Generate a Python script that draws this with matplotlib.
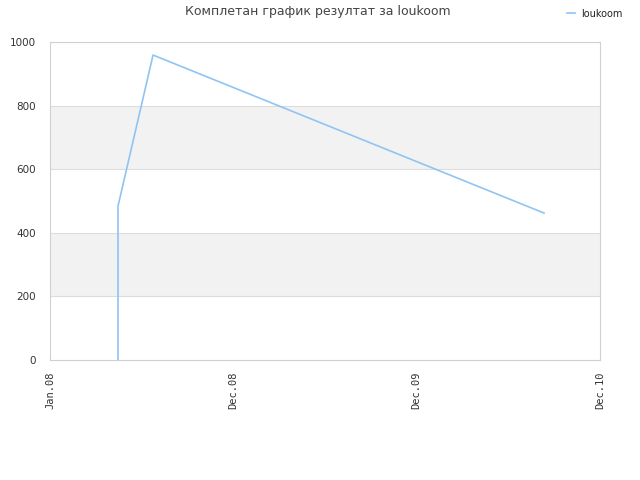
import matplotlib
matplotlib.use("Agg")
import matplotlib.pyplot as plt

TITLE = "Комплетан график резултат за loukoom"
SERIES = "loukoom"

tick_labels = ["Jan.08", "Dec.08", "Dec.09", "Dec.10"]
tick_pos = [0, 1, 2, 3]

# positions in tick-interval units
x_pos = [0.371, 0.371, 0.562, 2.695]
scores = [0, 484, 959, 462]

LINE = "#90c4f2"
GRID = "#dddddd"
BAND = "#f2f2f2"

fig = plt.figure(figsize=(6.4, 4.8), dpi=100)
ax = fig.add_axes([50 / 640, 120 / 480, 550 / 640, 318 / 480])

for lo, hi in [(200, 400), (600, 800)]:
    ax.axhspan(lo, hi, color=BAND, zorder=0, lw=0)
for y in [200, 400, 600, 800, 1000]:
    ax.axhline(y, color=GRID, lw=0.8, zorder=1)

ax.plot(x_pos, scores, color=LINE, lw=1.2, zorder=3, label=SERIES)

ax.set_xlim(0, 3)
ax.set_ylim(0, 1000)
ax.set_xticks(tick_pos)
ax.set_xticklabels(tick_labels, rotation=90, fontsize=7.5, color="#333333",
                   family="DejaVu Sans Mono")
ax.set_yticks([0, 200, 400, 600, 800, 1000])
ax.tick_params(axis="y", labelsize=7.5, colors="#333333", length=0, pad=10)
ax.tick_params(axis="x", length=0, pad=8)
for s in ax.spines.values():
    s.set_color("#d0d0d0")
    s.set_linewidth(0.8)

fig.text(0.497, 1 - 12 / 480, TITLE, ha="center", va="center", fontsize=9,
         color="#444444")
leg = fig.legend(loc="upper right", bbox_to_anchor=(0.987, 1.0), frameon=False,
                 fontsize=7, handlelength=0.8, handletextpad=0.7)
for t in leg.get_texts():
    t.set_color("#222222")

fig.savefig("out.png", dpi=100)
